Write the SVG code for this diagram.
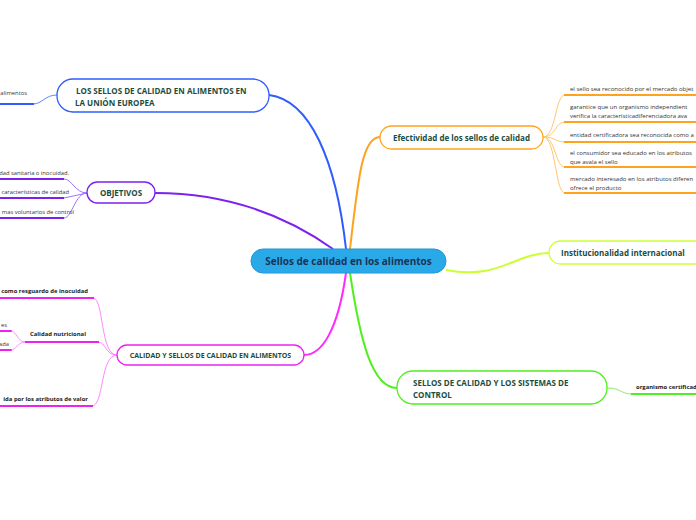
<svg xmlns="http://www.w3.org/2000/svg" width="696" height="520" viewBox="0 0 696 520">
<style>
text{font-family:"Open Sans","Noto Sans","Liberation Sans",sans-serif}
.nt{font-weight:bold;font-size:8px;fill:#1b4d3e}
.ct{font-size:6px;fill:#333}
.cl{font-size:5.8px;fill:#333}
.cb{font-size:5.9px;fill:#222;font-weight:bold}
</style>
<rect width="696" height="520" fill="#fff"/>
<g id="connectors" fill="none">
  <path d="M346,249 C336,160 310,100 269,95" stroke="#2f5cff" stroke-width="2"/>
  <path d="M350,249 C358,180 362,137 380,137" stroke="#ffa21e" stroke-width="2"/>
  <path d="M333,249 C285,215 225,193 155,193" stroke="#7b22ee" stroke-width="2"/>
  <path d="M346,273 C338,330 322,355 304,355" stroke="#ff2bff" stroke-width="2"/>
  <path d="M350,273 C360,340 372,388 397,388" stroke="#4ff01e" stroke-width="2"/>
  <path d="M446,270 C500,280 515,253 549,253" stroke="#ccff33" stroke-width="2"/>
  <path d="M57,95 C45,95 42,104 33,104" stroke="#5d86ff" stroke-width="1"/>
  <line x1="0" y1="104" x2="34" y2="104" stroke="#2f5cff" stroke-width="2"/>
  <path d="M87,193 C75,193 72,179 64,179 M87,193 L64,198 M87,193 C75,193 72,218 64,218" stroke="#a070ff" stroke-width="1"/>
  <g stroke="#7b22ee" stroke-width="2"><line x1="0" y1="179" x2="64" y2="179"/><line x1="0" y1="198" x2="64" y2="198"/><line x1="0" y1="218" x2="64" y2="218"/></g>
  <path d="M117,355 C100,355 104,298 93,298 M117,355 C105,355 106,342 98,342 M117,355 C100,355 104,406 92,406" stroke="#ff88ff" stroke-width="1"/>
  <g stroke="#ee22ee" stroke-width="2"><line x1="0" y1="298" x2="94" y2="298"/><line x1="25" y1="342" x2="99" y2="342"/><line x1="0" y1="406" x2="93" y2="406"/><line x1="0" y1="331" x2="12" y2="331"/><line x1="0" y1="350" x2="12" y2="350"/></g>
  <path d="M25,342 C18,342 16,331 11,331 M25,342 C18,342 16,350 11,350" stroke="#ff88ff" stroke-width="1"/>
  <path d="M543,137 C556,137 555,95 565,95 M543,137 C556,137 555,122 565,122 M543,137 C556,137 555,142 565,142 M543,137 C556,137 555,167 565,167 M543,137 C556,137 555,193 565,193" stroke="#ffc870" stroke-width="1"/>
  <g stroke="#ffa21e" stroke-width="2"><line x1="564" y1="95" x2="696" y2="95"/><line x1="564" y1="122" x2="696" y2="122"/><line x1="564" y1="142" x2="696" y2="142"/><line x1="564" y1="167" x2="696" y2="167"/><line x1="564" y1="193" x2="696" y2="193"/></g>
  <path d="M607,388 C622,388 620,394 632,394" stroke="#88f066" stroke-width="1"/>
  <line x1="631" y1="394" x2="696" y2="394" stroke="#4ff01e" stroke-width="2"/>
</g>
<g id="central">
  <rect x="251" y="249" width="195" height="24" rx="12" fill="#2aa9e8" stroke="#2196d8" stroke-width="1"/>
  <text x="348.5" y="264.5" text-anchor="middle" font-size="10" font-weight="bold" fill="#1a3456">Sellos de calidad en los alimentos</text>
</g>
<g id="n-ue">
  <rect x="57" y="79" width="212" height="33" rx="16" fill="#fff" stroke="#2f5cff" stroke-width="1.3"/>
  <text class="nt" x="76" y="94"> LOS SELLOS DE CALIDAD EN ALIMENTOS EN</text>
  <text class="nt" x="75" y="105.5">LA UNIÓN EUROPEA</text>
</g>
<g id="n-ue-c1"><text class="cl" x="27" y="95" text-anchor="end">alimentos</text></g>
<g id="n-obj">
  <rect x="87" y="182" width="68" height="21" rx="10.5" fill="#fff" stroke="#7b22ee" stroke-width="1.3"/>
  <text class="nt" x="121" y="195.5" text-anchor="middle">OBJETIVOS</text>
</g>
<g id="n-obj-c"><text class="cl" x="69" y="175" text-anchor="end">dad sanitaria o inocuidad.</text>
<text class="cl" x="69" y="194" text-anchor="end">características de calidad</text>
<text class="cl" x="74" y="214" text-anchor="end">mas voluntarios de control</text></g>
<g id="n-cal">
  <rect x="117" y="345" width="187" height="20" rx="10" fill="#fff" stroke="#ee22ee" stroke-width="1.3"/>
  <text x="210.5" y="357.5" text-anchor="middle" font-size="7" font-weight="bold" fill="#1b4d3e">CALIDAD Y SELLOS DE CALIDAD EN ALIMENTOS</text>
</g>
<g id="n-cal-c"><text class="cb" x="88" y="293" text-anchor="end">como resguardo de inocuidad</text>
<text class="cb" x="30" y="336">Calidad nutricional</text>
<text class="cl" x="7" y="327" text-anchor="end">es</text>
<text class="cl" x="9" y="346" text-anchor="end">ada</text>
<text class="cb" x="88" y="401" text-anchor="end">ida por los atributos  de  valor</text></g>
<g id="n-efe">
  <rect x="380" y="126" width="163" height="23" rx="11.5" fill="#fff" stroke="#ffa21e" stroke-width="1.3"/>
  <text class="nt" x="461.5" y="140.5" text-anchor="middle">Efectividad de los sellos de  calidad</text>
</g>
<g id="n-efe-c">
  <text class="ct" x="570" y="91">el sello sea reconocido por el mercado objet</text>
  <text class="ct" x="570" y="109">garantice  que  un  organismo  independient</text>
  <text class="ct" x="570" y="118">verifica  la  característicadiferenciadora ava</text>
  <text class="ct" x="570" y="137">entidad certificadora sea reconocida como a</text>
  <text class="ct" x="570" y="155">el consumidor sea educado en los atributos</text>
  <text class="ct" x="570" y="163.5">que avala el sello</text>
  <text class="ct" x="570" y="181">mercado interesado en los atributos diferen</text>
  <text class="ct" x="570" y="189.5">ofrece el producto</text>
</g>
<g id="n-inst">
  <rect x="549" y="241" width="160" height="23" rx="11.5" fill="#fff" stroke="#ccff33" stroke-width="1.3"/>
  <text class="nt" x="561" y="255.5">Institucionalidad internacional</text>
</g>
<g id="n-sis">
  <rect x="397" y="371" width="210" height="33" rx="16" fill="#fff" stroke="#4ff01e" stroke-width="1.3"/>
  <text class="nt" x="413" y="386">SELLOS DE CALIDAD Y LOS SISTEMAS DE</text>
  <text class="nt" x="413" y="397.5">CONTROL</text>
</g>
<g id="n-sis-c"><text class="cb" x="636" y="389">organismo certificad</text></g>
</svg>
